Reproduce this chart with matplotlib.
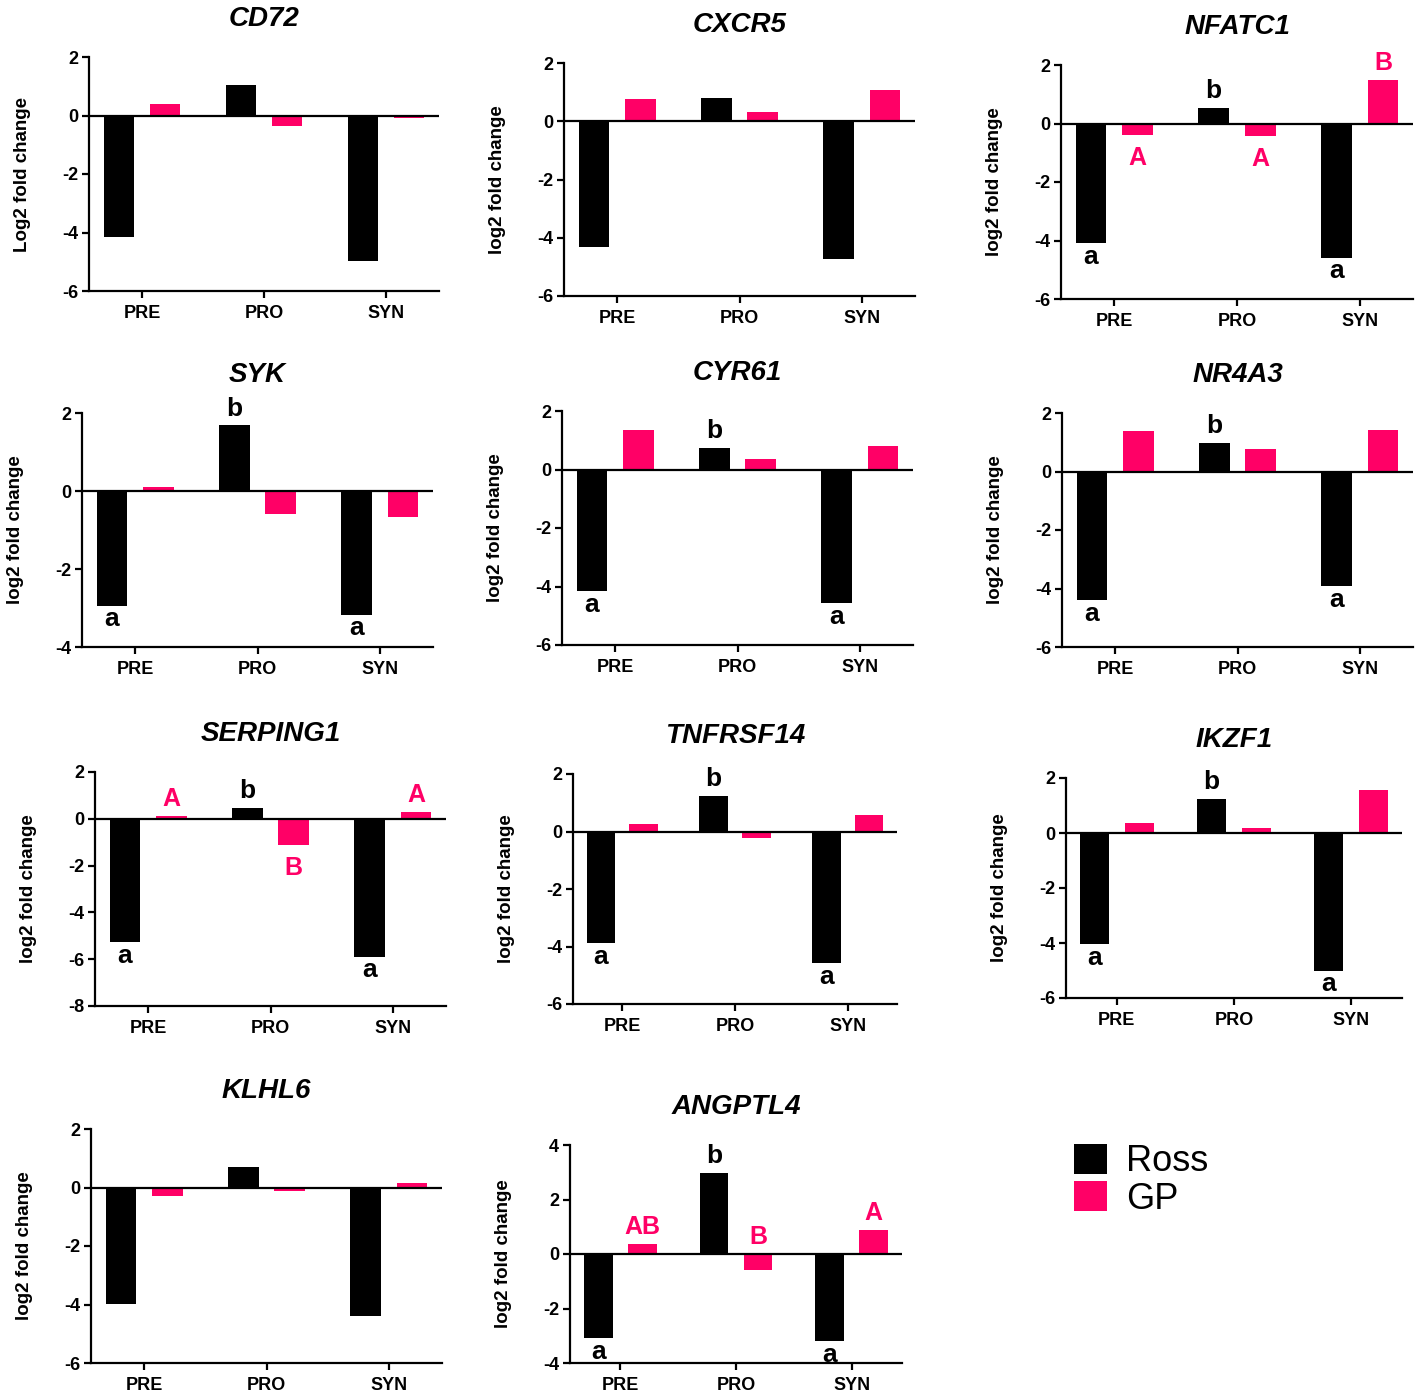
import matplotlib
matplotlib.use("Agg")
import matplotlib.pyplot as plt
from matplotlib.patches import Patch

plt.rcParams['font.family'] = ['Liberation Sans', 'DejaVu Sans']
plt.rcParams['axes.unicode_minus'] = False

ROSS_COLOR = '#000000'
GP_COLOR = '#ff0066'

groups = ["PRE", "PRO", "SYN"]

genes = ["CD72", "CXCR5", "NFATC1", "SYK", "CYR61", "NR4A3",
         "SERPING1", "TNFRSF14", "IKZF1", "KLHL6", "ANGPTL4"]

# log2 fold change, order PRE / PRO / SYN
ross = {
    "CD72":     [-4.17, 1.05, -4.97],
    "CXCR5":    [-4.33, 0.81, -4.74],
    "NFATC1":   [-4.10, 0.54, -4.59],
    "SYK":      [-2.95, 1.68, -3.18],
    "CYR61":    [-4.16, 0.73, -4.57],
    "NR4A3":    [-4.41, 0.97, -3.92],
    "SERPING1": [-5.27, 0.46, -5.91],
    "TNFRSF14": [-3.89, 1.24, -4.59],
    "IKZF1":    [-4.05, 1.25, -5.02],
    "KLHL6":    [-3.97, 0.70, -4.39],
    "ANGPTL4":  [-3.09, 2.99, -3.21],
}
gp = {
    "CD72":     [0.41, -0.37, -0.08],
    "CXCR5":    [0.78, 0.31, 1.07],
    "NFATC1":   [-0.39, -0.42, 1.50],
    "SYK":      [0.10, -0.58, -0.66],
    "CYR61":    [1.36, 0.35, 0.82],
    "NR4A3":    [1.37, 0.77, 1.42],
    "SERPING1": [0.14, -1.13, 0.30],
    "TNFRSF14": [0.25, -0.21, 0.57],
    "IKZF1":    [0.36, 0.17, 1.55],
    "KLHL6":    [-0.29, -0.11, 0.14],
    "ANGPTL4":  [0.38, -0.59, 0.89],
}

# significance letters
ross_letters = {
    "NFATC1": ["a", "b", "a"], "SYK": ["a", "b", "a"], "CYR61": ["a", "b", "a"],
    "NR4A3": ["a", "b", "a"], "SERPING1": ["a", "b", "a"], "TNFRSF14": ["a", "b", "a"],
    "IKZF1": ["a", "b", "a"], "ANGPTL4": ["a", "b", "a"],
}
gp_letters = {
    "NFATC1": ["A", "A", "B"], "SERPING1": ["A", "B", "A"], "ANGPTL4": ["AB", "B", "A"],
}

y_limits = {
    "CD72": (-6, 2), "CXCR5": (-6, 2), "NFATC1": (-6, 2), "SYK": (-4, 2),
    "CYR61": (-6, 2), "NR4A3": (-6, 2), "SERPING1": (-8, 2), "TNFRSF14": (-6, 2),
    "IKZF1": (-6, 2), "KLHL6": (-6, 2), "ANGPTL4": (-4, 4),
}

# axes boxes in pixels: left, top, right, bottom
W, H = 1418, 1394
boxes = [
    (89, 57, 439, 291), (564, 63, 915, 296), (1061, 65, 1413, 299),
    (82, 413, 433, 647), (562, 411, 913, 645), (1062, 413, 1413, 647),
    (95, 772, 446, 1006), (573, 774, 897, 1004), (1066, 778, 1402, 998),
    (91, 1129, 442, 1363), (570, 1145, 902, 1363),
]

fig = plt.figure(figsize=(W / 100, H / 100), dpi=100)


def put_letter(ax, x, v, txt, color, up):
    size = 19 if color == ROSS_COLOR else 18
    if up:
        ax.annotate(txt, (x, max(v, 0)), xytext=(0, 7), textcoords='offset points',
                    ha='center', va='baseline', fontsize=size, fontweight='bold',
                    color=color, annotation_clip=False)
    else:
        off = -1 if color == ROSS_COLOR else -8
        ax.annotate(txt, (x, v), xytext=(0, off), textcoords='offset points',
                    ha='center', va='top', fontsize=size, fontweight='bold',
                    color=color, annotation_clip=False)


for i, gene in enumerate(genes):
    L, T, R, B = boxes[i]
    ax = fig.add_axes([L / W, 1 - B / H, (R - L) / W, (B - T) / H])
    x = list(range(len(groups)))
    ax.bar([p - 0.19 for p in x], ross[gene], width=0.25, color=ROSS_COLOR)
    ax.bar([p + 0.19 for p in x], gp[gene], width=0.25, color=GP_COLOR)
    ax.axhline(0, color='black', lw=1.6)

    lo, hi = y_limits[gene]
    ax.set_ylim(lo, hi)
    ax.set_yticks(range(lo, hi + 1, 2))
    ax.set_xlim(-0.435, 2.435)
    ax.set_xticks(x)
    ax.set_xticklabels(groups)

    for s in ['top', 'right']:
        ax.spines[s].set_visible(False)
    for s in ['left', 'bottom']:
        ax.spines[s].set_linewidth(1.6)
    ax.tick_params(axis='x', length=5, width=1.6, pad=5, labelsize=13)
    ax.tick_params(axis='y', length=5, width=1.6, pad=3, labelsize=13)
    for lab in ax.get_xticklabels() + ax.get_yticklabels():
        lab.set_fontweight('bold')

    ax.set_title(gene, fontsize=20, fontweight='bold', fontstyle='italic', pad=22)
    ylab = "Log2 fold change" if gene == "CD72" else "log2 fold change"
    ax.set_ylabel(ylab, fontsize=13.5, fontweight='bold')
    ax.yaxis.set_label_coords(-58 / (R - L), 0.5)

    if gene in ross_letters:
        for p, v, t in zip(x, ross[gene], ross_letters[gene]):
            put_letter(ax, p - 0.19, v, t, ROSS_COLOR, v >= 0)
    if gene in gp_letters:
        for p, v, t in zip(x, gp[gene], gp_letters[gene]):
            put_letter(ax, p + 0.19, v, t, GP_COLOR, v >= 0 or gene == "ANGPTL4")

handles = [Patch(facecolor=ROSS_COLOR, label="Ross"), Patch(facecolor=GP_COLOR, label="GP")]
fig.legend(handles=handles, loc='upper left', bbox_to_anchor=(1074 / W, 1 - 1144 / H),
           frameon=False, fontsize=26, handlelength=0.9, handleheight=0.9,
           handletextpad=0.55, labelspacing=0.05, borderpad=0, borderaxespad=0)

fig.savefig("out.png", dpi=100)
